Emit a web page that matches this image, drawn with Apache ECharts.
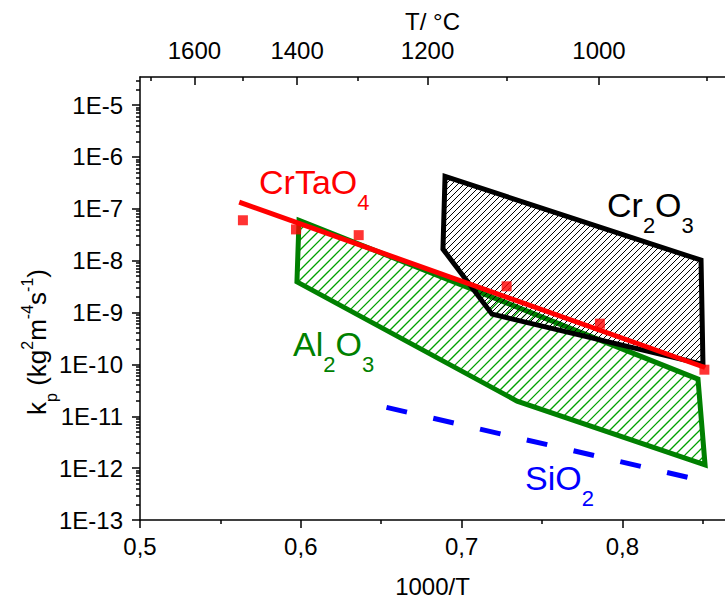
<!DOCTYPE html>
<html>
<head>
<meta charset="utf-8">
<script src="https://cdn.jsdelivr.net/npm/echarts@6/dist/echarts.min.js"></script>
<style>
html, body { margin: 0; padding: 0; background: #fff; }
#main { width: 725px; height: 601px; }
</style>
</head>
<body>
<div id="main"></div>
<script>
// CrTaO4 measured points (1000/T, kp)
var crtaoX = [0.564, 0.597, 0.636, 0.728, 0.786, 0.851];
var crtaoKp = [6.0e-8, 4.0e-8, 3.1e-8, 3.2e-9, 6.1e-10, 7.9e-11];
// CrTaO4 fitted line
var fitX = [0.5617, 0.8514];
var fitKp = [1.34e-7, 8.7e-11];
// Cr2O3 band outline
var cr2o3X = [0.6897, 0.8489, 0.8501, 0.7189, 0.6884];
var cr2o3Kp = [4.2e-7, 1.02e-8, 1.0e-10, 9.3e-10, 1.67e-8];
// Al2O3 band outline
var al2o3X = [0.5989, 0.8470, 0.8514, 0.7345, 0.5976];
var al2o3Kp = [6.0e-8, 5.2e-11, 1.15e-12, 1.96e-11, 3.9e-9];
// SiO2 line
var sio2X = [0.6533, 0.8431];
var sio2Kp = [1.48e-11, 6.4e-13];

// axis ticks
var bottomMajor = [0.5, 0.6, 0.7, 0.8];
var bottomMinor = [0.55, 0.65, 0.75, 0.85];
var topMajorT = [1600, 1400, 1200, 1000];
var topMinorT = [1700, 1500, 1300, 1100, 900];
var yDecades = [-13, -12, -11, -10, -9, -8, -7, -6, -5];
var yMinorMult = [2, 3, 4, 5, 6, 7, 8, 9];

var xMin = 0.5, xMax = 0.8638;
var yLogMin = -13, yLogMax = -4.46;
var FONT = 'Liberation Sans, Arial, sans-serif';

function toInvT(t) { return 1000 / (t + 273.15); }
var topMajor = topMajorT.map(toInvT);
var topMinor = topMinorT.map(toInvT);
var yMinor = [];
yDecades.forEach(function (d) {
  yMinorMult.forEach(function (m) {
    var v = d + Math.log10(m);
    if (v < yLogMax) yMinor.push(v);
  });
});

// hatched polygon: outline + "/" lines cut at the polygon edges
function band(xs, ys, stroke, step, hatchColor, hatchWidth, z) {
  return {
    type: 'custom',
    coordinateSystem: 'cartesian2d',
    silent: true,
    z: z,
    data: xs.map(function (x, i) { return [x, ys[i]]; }),
    renderItem: function (params, api) {
      if (params.dataIndex !== 0) return null;
      var pts = xs.map(function (x, i) { return api.coord([x, ys[i]]); });
      var lo = Infinity, hi = -Infinity;
      pts.forEach(function (p) {
        lo = Math.min(lo, p[0] + p[1]); hi = Math.max(hi, p[0] + p[1]);
      });
      var children = [];
      for (var c = Math.ceil(lo / step) * step; c <= hi; c += step) {
        var hits = [];
        for (var i = 0; i < pts.length; i++) {
          var p = pts[i], q = pts[(i + 1) % pts.length];
          var fp = p[0] + p[1] - c, fq = q[0] + q[1] - c;
          if ((fp < 0) !== (fq < 0)) {
            var t = fp / (fp - fq);
            hits.push(p[0] + t * (q[0] - p[0]));
          }
        }
        hits.sort(function (a, b) { return a - b; });
        for (var k = 0; k + 1 < hits.length; k += 2) {
          children.push({
            type: 'polyline',
            shape: { points: [[hits[k], c - hits[k]], [hits[k + 1], c - hits[k + 1]]] },
            style: { stroke: hatchColor, lineWidth: hatchWidth, fill: null }
          });
        }
      }
      children.push({
        type: 'polygon', shape: { points: pts },
        style: { fill: null, stroke: stroke, lineWidth: 5, lineJoin: 'miter' }
      });
      return { type: 'group', children: children };
    }
  };
}

function formula(parts, color, x, y) {
  var txt = parts.map(function (p) { return p[1] ? '{s|' + p[0] + '}' : '{m|' + p[0] + '}'; }).join('');
  return {
    type: 'text', x: x, y: y, silent: true,
    style: {
      text: txt, verticalAlign: 'top', align: 'left',
      rich: {
        m: { fontSize: 34, fontFamily: FONT, fill: color },
        s: { fontSize: 22, fontFamily: FONT, fill: color, padding: [40, 0, 0, 0] }
      }
    }
  };
}

var axisTxt = { fontSize: 24, color: '#000', fontFamily: FONT };
var blackLine = { color: '#000', width: 1.5 };

var chart = echarts.init(document.getElementById('main'), null, { renderer: 'svg' });
chart.setOption({
  animation: false,
  grid: { left: 140, right: 0, top: 77, bottom: 81, outerBoundsMode: 'none', containLabel: false },
  xAxis: [
    {
      type: 'value', min: xMin, max: xMax, position: 'bottom',
      axisLine: { show: true, lineStyle: blackLine },
      axisTick: { customValues: bottomMajor, length: 8, lineStyle: blackLine },
      axisLabel: Object.assign({ customValues: bottomMajor, margin: 14,
        formatter: function (v) { return v.toFixed(1).replace('.', ','); } }, axisTxt),
      splitLine: { show: false },
      name: '1000/T', nameLocation: 'middle', nameGap: 54, nameTextStyle: axisTxt
    },
    {
      type: 'value', min: xMin, max: xMax, position: 'bottom',
      axisLine: { show: false },
      axisTick: { customValues: bottomMinor, length: 4, lineStyle: blackLine },
      axisLabel: { show: false }, splitLine: { show: false }
    },
    {
      type: 'value', min: xMin, max: xMax, position: 'top',
      axisLine: { show: true, lineStyle: blackLine },
      axisTick: { inside: true, customValues: topMajor, length: 8, lineStyle: blackLine },
      axisLabel: Object.assign({ customValues: topMajor, margin: 15,
        formatter: function (v) { return String(Math.round(1000 / v - 273.15)); } }, axisTxt),
      splitLine: { show: false },
      name: 'T/ °C', nameLocation: 'middle', nameGap: 44, nameTextStyle: axisTxt
    },
    {
      type: 'value', min: xMin, max: xMax, position: 'top',
      axisLine: { show: false },
      axisTick: { inside: true, customValues: topMinor, length: 4, lineStyle: blackLine },
      axisLabel: { show: false }, splitLine: { show: false }
    }
  ],
  yAxis: [
    {
      type: 'log', logBase: 10, min: Math.pow(10, yLogMin), max: Math.pow(10, yLogMax),
      position: 'left',
      axisLine: { show: true, lineStyle: blackLine },
      axisTick: { show: false },
      axisLabel: Object.assign({ margin: 17, formatter: function (v) {
        var l = Math.log10(v);
        if (Math.abs(l - Math.round(l)) > 1e-6) return '';
        return '1E' + Math.round(l);
      } }, axisTxt),
      splitLine: { show: false }
    },
    {
      type: 'value', min: yLogMin, max: yLogMax, position: 'left',
      axisLine: { show: false },
      axisTick: { customValues: yDecades, length: 8, lineStyle: blackLine },
      axisLabel: { show: false }, splitLine: { show: false }
    },
    {
      type: 'value', min: yLogMin, max: yLogMax, position: 'left',
      axisLine: { show: false },
      axisTick: { customValues: yMinor, length: 4, lineStyle: blackLine },
      axisLabel: { show: false }, splitLine: { show: false }
    }
  ],
  graphic: [
    formula([['CrTaO', 0], ['4', 1]], '#ff0000', 259, 151),
    formula([['Cr', 0], ['2', 1], ['O', 0], ['3', 1]], '#000000', 607, 174),
    formula([['Al', 0], ['2', 1], ['O', 0], ['3', 1]], '#008000', 293, 313),
    formula([['SiO', 0], ['2', 1]], '#0000ff', 525, 447),
    {
      type: 'text', x: 37, y: 342, rotation: Math.PI / 2, silent: true,
      style: {
        text: '{m|k}{b|p}{m| (kg}{p|2}{m|m}{p|-4}{m|s}{p|-1}{m|)}',
        align: 'center', verticalAlign: 'middle',
        rich: {
          m: { fontSize: 26, fontFamily: FONT, fill: '#000' },
          b: { fontSize: 16, fontFamily: FONT, fill: '#000', padding: [28, 0, 0, 0] },
          p: { fontSize: 16, fontFamily: FONT, fill: '#000', padding: [0, 0, 20, 0] }
        }
      }
    }
  ],
  series: [
    band(al2o3X, al2o3Kp, '#008000', 10, '#00a000', 1.3, 2),
    band(cr2o3X, cr2o3Kp, '#000000', 6, '#000000', 1, 3),
    {
      type: 'line', z: 4, silent: true, showSymbol: false,
      data: sio2X.map(function (x, i) { return [x, sio2Kp[i]]; }),
      lineStyle: { color: '#0000ff', width: 5, type: [21, 27], cap: 'butt' }
    },
    {
      type: 'line', z: 5, silent: true, showSymbol: false,
      data: fitX.map(function (x, i) { return [x, fitKp[i]]; }),
      lineStyle: { color: '#ff0000', width: 5 }
    },
    {
      type: 'scatter', z: 6, silent: true, symbol: 'rect', symbolSize: 10,
      itemStyle: { color: '#ff0000' },
      data: crtaoX.map(function (x, i) { return [x, crtaoKp[i]]; })
    }
  ]
});
</script>
</body>
</html>
